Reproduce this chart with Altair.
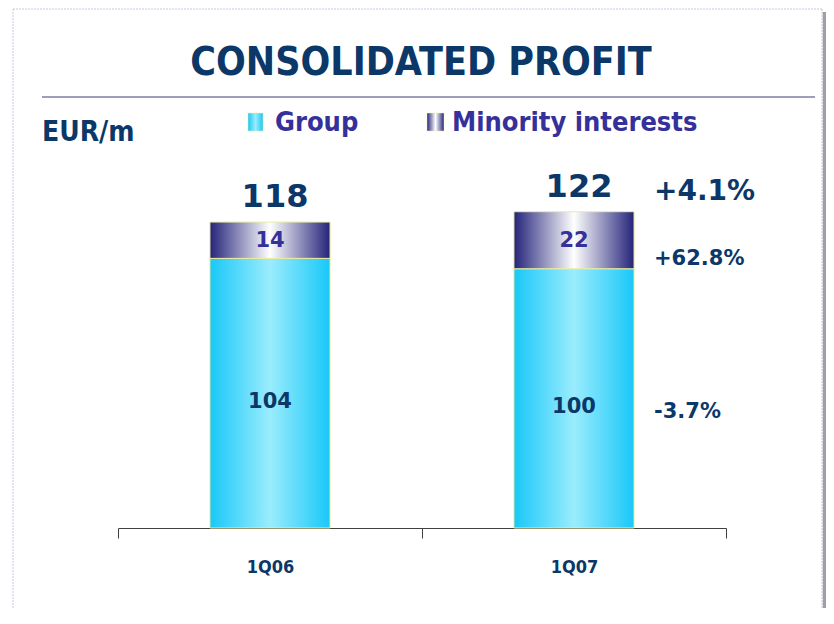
import altair as alt
import pandas as pd

categories = ["1Q06", "1Q07"]
group_vals = [104, 100]
minority_vals = [14, 22]
totals = [118, 122]
chg_total = ["", "+4.1%"]
chg_minority = ["", "+62.8%"]
chg_group = ["", "-3.7%"]
legend_labels = ["Group", "Minority interests"]
title_text = "CONSOLIDATED PROFIT"
unit_text = "EUR/m"

df = pd.DataFrame({
    "cat": categories,
    "group": group_vals,
    "minority": minority_vals,
    "total": totals,
    "chg_total": chg_total,
    "chg_minority": chg_minority,
    "chg_group": chg_group,
})

NAVY = "#0b3868"
INDIGO = "#35309a"
FONT = "DejaVu Sans"
NARROW = "DejaVu Sans Condensed, DejaVu Sans"

cyan_grad = alt.Gradient(
    gradient="linear", x1=0, x2=1, y1=0, y2=0,
    stops=[alt.GradientStop(color="#18c8f8", offset=0),
           alt.GradientStop(color="#9aecfd", offset=0.5),
           alt.GradientStop(color="#18c8f8", offset=1)])
navy_grad = alt.Gradient(
    gradient="linear", x1=0, x2=1, y1=0, y2=0,
    stops=[alt.GradientStop(color="#24237a", offset=0),
           alt.GradientStop(color="#ffffff", offset=0.5),
           alt.GradientStop(color="#24237a", offset=1)])

x_enc = alt.X("cat:N", sort=categories, title=None,
              scale=alt.Scale(paddingInner=0, paddingOuter=0),
              axis=alt.Axis(labelAngle=0, labelFont=NARROW, labelFontSize=18,
                            labelFontWeight="bold", labelColor=NAVY,
                            domainColor="#404040", tickColor="#404040",
                            tickSize=10, tickBand="extent", labelPadding=20,
                            domainWidth=1))
y_scale = alt.Scale(domain=[0, 162])
BAR_W = alt.RelativeBandSize(0.395)

base = alt.Chart(df)

group_bar = base.mark_bar(fill=cyan_grad, stroke="#ecec9c", strokeWidth=1, width=BAR_W).encode(
    x=x_enc,
    y=alt.Y("group:Q", scale=y_scale, axis=None),
)
minority_bar = base.mark_bar(fill=navy_grad, stroke="#ecec9c", strokeWidth=1, width=BAR_W).encode(
    x=x_enc,
    y=alt.Y("group:Q", scale=y_scale, axis=None),
    y2="total:Q",
)

group_lbl = base.transform_calculate(mid="datum.group/2").mark_text(
    font=FONT, fontSize=21, fontWeight="bold", color=NAVY, baseline="middle", dy=9
).encode(x=x_enc, y=alt.Y("mid:Q", scale=y_scale), text="group:Q")

min_lbl = base.transform_calculate(mid="datum.group + datum.minority/2").mark_text(
    font=FONT, fontSize=21, fontWeight="bold", color=INDIGO, baseline="middle", dy=1
).encode(x=x_enc, y=alt.Y("mid:Q", scale=y_scale), text="minority:Q")

tot_lbl = base.mark_text(
    font=FONT, fontSize=32, fontWeight="bold", color=NAVY, baseline="middle", dy=-25, dx=5
).encode(x=x_enc, y=alt.Y("total:Q", scale=y_scale), text="total:Q")

pct_tot = base.mark_text(
    font=FONT, fontSize=28, fontWeight="bold", color=NAVY, baseline="middle",
    align="left", dx=80, dy=-20
).encode(x=x_enc, y=alt.Y("total:Q", scale=y_scale), text="chg_total:N")

pct_min = base.mark_text(
    font=FONT, fontSize=21, fontWeight="bold", color=NAVY, baseline="middle",
    align="left", dx=80, dy=-10
).encode(x=x_enc, y=alt.Y("group:Q", scale=y_scale), text="chg_minority:N")

pct_grp = base.transform_calculate(mid="datum.group/2").mark_text(
    font=FONT, fontSize=21, fontWeight="bold", color=NAVY, baseline="middle",
    align="left", dx=80, dy=14
).encode(x=x_enc, y=alt.Y("mid:Q", scale=y_scale), text="chg_group:N")

one = alt.Chart(pd.DataFrame({"t": [title_text], "u": [unit_text],
                              "g": [legend_labels[0]], "m": [legend_labels[1]]}))

title = one.mark_text(font=NARROW, fontSize=39, fontWeight="bold", color=NAVY,
                      align="center", baseline="alphabetic").encode(
    x=alt.value(303), y=alt.value(-33), text="t:N")
rule = one.mark_rule(color="#7c7ca8", strokeWidth=1.5).encode(
    x=alt.value(-76), x2=alt.value(697), y=alt.value(-11))
unit = one.mark_text(font=NARROW, fontSize=28, fontWeight="bold", color=NAVY,
                     align="left", baseline="alphabetic").encode(
    x=alt.value(-76), y=alt.value(33), text="u:N")
sq1 = one.mark_rect(fill=cyan_grad, stroke="#ecec9c", strokeWidth=0.5).encode(
    x=alt.value(130), x2=alt.value(145), y=alt.value(5), y2=alt.value(23))
sq2 = one.mark_rect(fill=navy_grad, stroke="#ecec9c", strokeWidth=0.5).encode(
    x=alt.value(309), x2=alt.value(326), y=alt.value(5), y2=alt.value(23))
lg1 = one.mark_text(font=NARROW, fontSize=27, fontWeight="bold", color=INDIGO, align="left",
                    baseline="alphabetic").encode(
    x=alt.value(157), y=alt.value(23), text="g:N")
lg2 = one.mark_text(font=NARROW, fontSize=27, fontWeight="bold", color=INDIGO, align="left",
                    baseline="alphabetic").encode(
    x=alt.value(334), y=alt.value(23), text="m:N")

# slide frame
frame_top = one.mark_rule(color="#c4c8e0", strokeWidth=1, strokeDash=[2, 1]).encode(
    x=alt.value(-105), x2=alt.value(704), y=alt.value(-99))
frame_left = one.mark_rule(color="#c4c8e0", strokeWidth=1, strokeDash=[2, 1]).encode(
    x=alt.value(-105), y=alt.value(-99), y2=alt.value(500))
frame_right = one.mark_rule(color="#c4c8e0", strokeWidth=1, strokeDash=[2, 1]).encode(
    x=alt.value(704), y=alt.value(-99), y2=alt.value(500))
shadow = one.mark_rule(color="#a0a0a4", strokeWidth=3.5).encode(
    x=alt.value(706.5), y=alt.value(-96), y2=alt.value(500))

chart = alt.layer(
    frame_top, frame_left, frame_right, shadow,
    group_bar, minority_bar, group_lbl, min_lbl, tot_lbl, pct_tot, pct_min, pct_grp,
    title, rule, unit, sq1, sq2, lg1, lg2
).properties(
    width=608, height=420,
    autosize=alt.AutoSizeParams(type="none"),
    padding={"left": 110, "right": 100, "top": 100, "bottom": 80},
    background="white",
).configure_view(stroke=None)

chart.save("out.html", embed_options={"renderer": "svg", "actions": False})
